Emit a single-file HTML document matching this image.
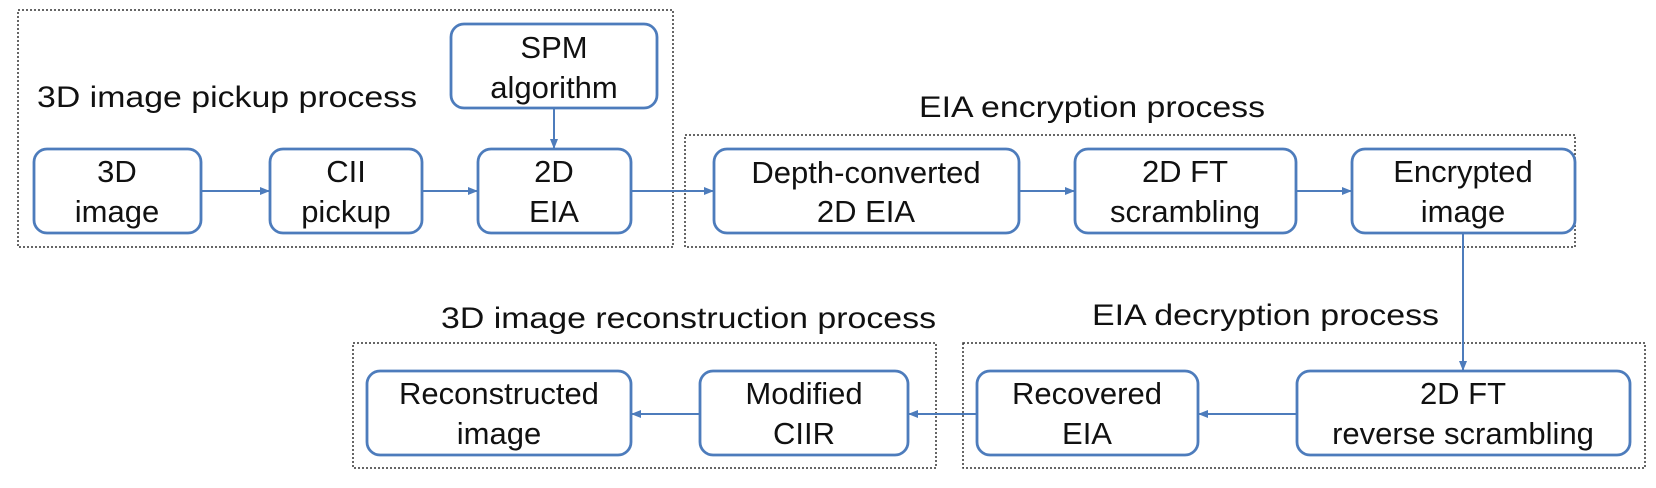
<!DOCTYPE html>
<html><head><meta charset="utf-8"><style>
html,body{margin:0;padding:0;background:#fff;}
svg{display:block;}
text{font-family:"Liberation Sans",Arial,sans-serif;fill:#111;}
</style></head><body>
<svg width="1656" height="488" viewBox="0 0 1656 488" xmlns="http://www.w3.org/2000/svg">
<defs>
<marker id="a" markerWidth="10" markerHeight="8" refX="9" refY="4" orient="auto" markerUnits="userSpaceOnUse">
<path d="M0,0 L10,4 L0,8 z" fill="#4d7cbc"/>
</marker>
</defs>
<g fill="none" stroke="#333" stroke-width="1.5" stroke-dasharray="2,2">
<rect x="18" y="10" width="655" height="237"/>
<rect x="685" y="135" width="890" height="112"/>
<rect x="353" y="343" width="583" height="125"/>
<rect x="963" y="343" width="682" height="125"/>
</g>
<g fill="#fff" stroke="#4d7cbc" stroke-width="2.8">
<rect x="451" y="24" width="206" height="84" rx="13"/>
<rect x="34" y="149" width="167" height="84" rx="13"/>
<rect x="270" y="149" width="152" height="84" rx="13"/>
<rect x="478" y="149" width="153" height="84" rx="13"/>
<rect x="714" y="149" width="305" height="84" rx="13"/>
<rect x="1075" y="149" width="221" height="84" rx="13"/>
<rect x="1352" y="149" width="223" height="84" rx="13"/>
<rect x="367" y="371" width="264" height="84" rx="13"/>
<rect x="700" y="371" width="208" height="84" rx="13"/>
<rect x="977" y="371" width="221" height="84" rx="13"/>
<rect x="1297" y="371" width="333" height="84" rx="13"/>
</g>
<g stroke="#4d7cbc" stroke-width="2" marker-end="url(#a)">
<line x1="201" y1="191" x2="269" y2="191"/>
<line x1="422" y1="191" x2="477" y2="191"/>
<line x1="631" y1="191" x2="713" y2="191"/>
<line x1="1019" y1="191" x2="1074" y2="191"/>
<line x1="1296" y1="191" x2="1351" y2="191"/>
<line x1="554" y1="108" x2="554" y2="148"/>
<line x1="1463" y1="233" x2="1463" y2="370"/>
<line x1="1297" y1="414" x2="1199" y2="414"/>
<line x1="977" y1="414" x2="909" y2="414"/>
<line x1="700" y1="414" x2="632" y2="414"/>
</g>
<g font-size="30">
<text x="37" y="107" textLength="380" lengthAdjust="spacingAndGlyphs">3D image pickup process</text>
<text x="919" y="117" textLength="346" lengthAdjust="spacingAndGlyphs">EIA encryption process</text>
<text x="441" y="328" textLength="495" lengthAdjust="spacingAndGlyphs">3D image reconstruction process</text>
<text x="1092" y="325" textLength="347" lengthAdjust="spacingAndGlyphs">EIA decryption process</text>
</g>
<g font-size="31" text-anchor="middle">
<text x="554" y="58">SPM</text><text x="554" y="98">algorithm</text>
<text x="117" y="182">3D</text><text x="117" y="222">image</text>
<text x="346" y="182">CII</text><text x="346" y="222">pickup</text>
<text x="554" y="182">2D</text><text x="554" y="222">EIA</text>
<text x="866" y="183">Depth-converted</text><text x="866" y="222">2D EIA</text>
<text x="1185" y="182">2D FT</text><text x="1185" y="222">scrambling</text>
<text x="1463" y="182">Encrypted</text><text x="1463" y="222">image</text>
<text x="499" y="404">Reconstructed</text><text x="499" y="444">image</text>
<text x="804" y="404">Modified</text><text x="804" y="444">CIIR</text>
<text x="1087" y="404">Recovered</text><text x="1087" y="444">EIA</text>
<text x="1463" y="404">2D FT</text><text x="1463" y="444">reverse scrambling</text>
</g>
</svg>
</body></html>
